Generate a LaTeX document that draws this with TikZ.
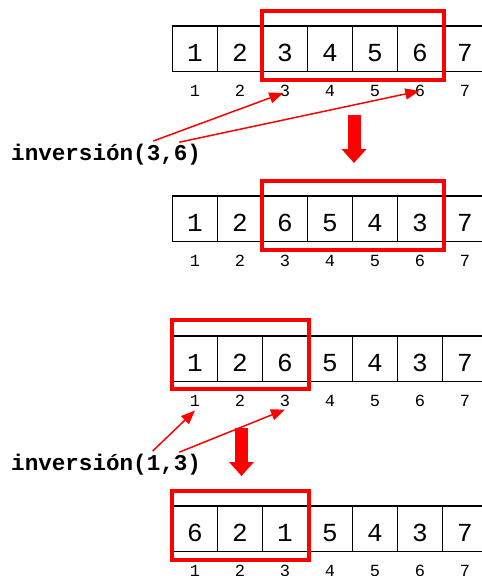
\documentclass[tikz,border=0pt]{standalone}
\usepackage{fontspec}
\setmonofont{Liberation Mono}
\usetikzlibrary{arrows.meta,calc}
\begin{document}
\begin{tikzpicture}[x=1pt,y=-1pt,
  cell/.style={draw=black,line width=1.6pt,minimum width=45pt,minimum height=45.5pt,inner sep=0pt,
    text height=26pt,text depth=0pt,font=\ttfamily\fontsize{26}{26}\selectfont},
  idx/.style={inner sep=0pt,anchor=base,font=\ttfamily\fontsize{17}{17}\selectfont},
  sel/.style={draw=red,line width=4pt},
  lbl/.style={inner sep=0pt,anchor=base west,font=\ttfamily\bfseries\fontsize{22.6}{22.6}\selectfont},
  ptr/.style={red,line width=1.5pt,-{Triangle[length=14pt,width=11pt]}},
  bigarrow/.style={red,line width=13pt,-{Triangle[length=14pt,width=24pt]}}
]
\useasboundingbox (0,0) rectangle (482,576);

% row 1
\foreach \v [count=\i] in {1,2,3,4,5,6,7}{
  \node[cell] (r1c\i) at ({150+45*\i},48.75) {\v};
  \node[idx] (r1i\i) at ({150+45*\i},96.5) {\i};
}
% row 2
\foreach \v [count=\i] in {1,2,6,5,4,3,7}{
  \node[cell] (r2c\i) at ({150+45*\i},218.75) {\v};
  \node[idx] (r2i\i) at ({150+45*\i},266.5) {\i};
}
% row 3
\foreach \v [count=\i] in {1,2,6,5,4,3,7}{
  \node[cell] (r3c\i) at ({150+45*\i},358.75) {\v};
  \node[idx] (r3i\i) at ({150+45*\i},406.5) {\i};
}
% row 4
\foreach \v [count=\i] in {6,2,1,5,4,3,7}{
  \node[cell] (r4c\i) at ({150+45*\i},528.75) {\v};
  \node[idx] (r4i\i) at ({150+45*\i},576.5) {\i};
}

% selection frames
\draw[sel] ($(r1c3.north west)+(0.5,-14)$) rectangle ($(r1c6.south east)+(1,7.5)$);
\draw[sel] ($(r2c3.north west)+(0.5,-14)$) rectangle ($(r2c6.south east)+(1,7.5)$);
\draw[sel] ($(r3c1.north west)+(0,-15)$) rectangle ($(r3c3.south east)+(0.5,7)$);
\draw[sel] ($(r4c1.north west)+(0,-14.5)$) rectangle ($(r4c3.south east)+(0.5,7.3)$);

% labels
\node[lbl] (lab1) at (11,160.7) {inversión(3,6)};
\node[lbl] (lab2) at (11,470.7) {inversión(1,3)};

\coordinate (s1a) at ($(lab1.base west)+(142.3,-19.7)$);
\coordinate (s1b) at ($(lab1.base west)+(168.3,-18.5)$);
\coordinate (s2a) at ($(lab2.base west)+(141.7,-19.7)$);
\coordinate (s2b) at ($(lab2.base west)+(168.3,-18.5)$);

\draw[ptr] (s1a) -- ($(r1i3.base)+(-1.7,-3.5)$);
\draw[ptr] (s1b) -- ($(r1i6.base)+(-0.7,-5.5)$);
\draw[ptr] (s2a) -- ($(r3i1.base)+(0,4)$);
\draw[ptr] (s2b) -- ($(r3i3.base)+(0,3)$);

% big arrows
\coordinate (b1s) at (354,115);
\coordinate (b1e) at (354,163);
\coordinate (b2s) at (241.5,428);
\coordinate (b2e) at (241.5,476);
\draw[bigarrow] (b1s) -- (b1e);
\draw[bigarrow] (b2s) -- (b2e);
\end{tikzpicture}
\end{document}
